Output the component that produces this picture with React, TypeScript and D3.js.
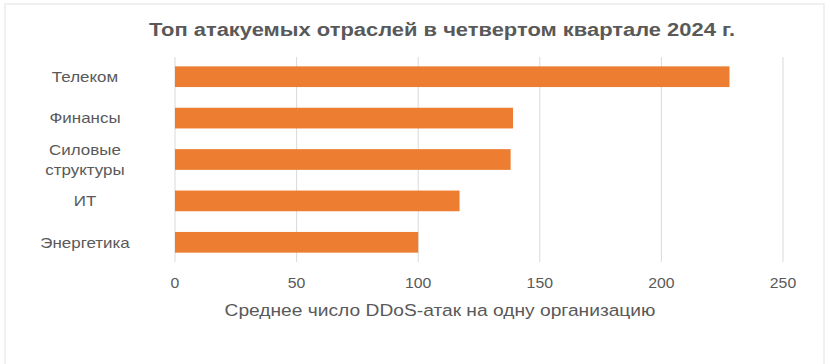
import React from 'react';
import * as d3 from 'd3';

const categories = ['Телеком', 'Финансы', 'Силовые структуры', 'ИТ', 'Энергетика'];
const labelLines = [['Телеком'], ['Финансы'], ['Силовые', 'структуры'], ['ИТ'], ['Энергетика']];
const values = [228, 139, 138, 117, 100];
const ticks = [0, 50, 100, 150, 200, 250];

const title = 'Топ атакуемых отраслей в четвертом квартале 2024 г.';
const axisTitle = 'Среднее число DDoS-атак на одну организацию';

const W = 830;
const H = 364;
// the source screenshot looks slightly stretched horizontally
const SX = 1.13;

const App: React.FC = () => {
    const x = d3.scaleLinear().domain([0, 250]).range([175, 783]);
    const y = d3.scaleBand<string>().domain(categories).range([56, 263]).paddingInner(0.5).paddingOuter(0.25);
    const font = '"Liberation Sans", Arial, sans-serif';
    const grey = '#595959';

    return (
        <div style={{ position: 'fixed', left: 0, top: 0 }}>
            <svg width={W} height={H} style={{ display: 'block', fontFamily: font }}>
                <rect x={0} y={0} width={W} height={H} fill="#fff" />
                {/* card border */}
                <rect x={5} y={4} width={819} height={H + 10} fill="none" stroke="#ececec" strokeWidth={1.5} />

                <text x={442} y={36} textAnchor="middle" fontSize={18} fontWeight="bold" fill={grey}
                    textLength={586} lengthAdjust="spacingAndGlyphs">
                    {title}
                </text>

                {/* gridlines */}
                {ticks.map(t => (
                    <line key={'g' + t} x1={x(t)} x2={x(t)} y1={57} y2={262} stroke="#d9d9d9" strokeWidth={1} />
                ))}

                {/* bars */}
                {categories.map((c, i) => (
                    <rect key={c} x={x(0)} y={y(c)} width={x(values[i]) - x(0)} height={y.bandwidth()} fill="#ed7d31" />
                ))}

                {/* category labels */}
                {categories.map((c, i) => {
                    const lines = labelLines[i];
                    const cy = (y(c) ?? 0) + y.bandwidth() / 2;
                    const lh = 20;
                    const y0 = cy - ((lines.length - 1) * lh) / 2;
                    return (
                        <g key={'l' + c} transform={`translate(85,${y0}) scale(${SX},1)`}>
                            <text textAnchor="middle" fontSize={15} fill={grey}>
                                {lines.map((ln, j) => (
                                    <tspan key={j} x={0} y={j * lh} dy="0.35em">{ln}</tspan>
                                ))}
                            </text>
                        </g>
                    );
                })}

                {/* tick labels */}
                {ticks.map(t => (
                    <g key={'t' + t} transform={`translate(${x(t)},283) scale(${SX},1)`}>
                        <text dy="0.35em" textAnchor="middle" fontSize={14} fill={grey}>{t}</text>
                    </g>
                ))}

                <g transform={`translate(440,310) scale(${SX},1)`}>
                    <text dy="0.35em" textAnchor="middle" fontSize={17} fill={grey}>{axisTitle}</text>
                </g>
            </svg>
        </div>
    );
};

export default App;
